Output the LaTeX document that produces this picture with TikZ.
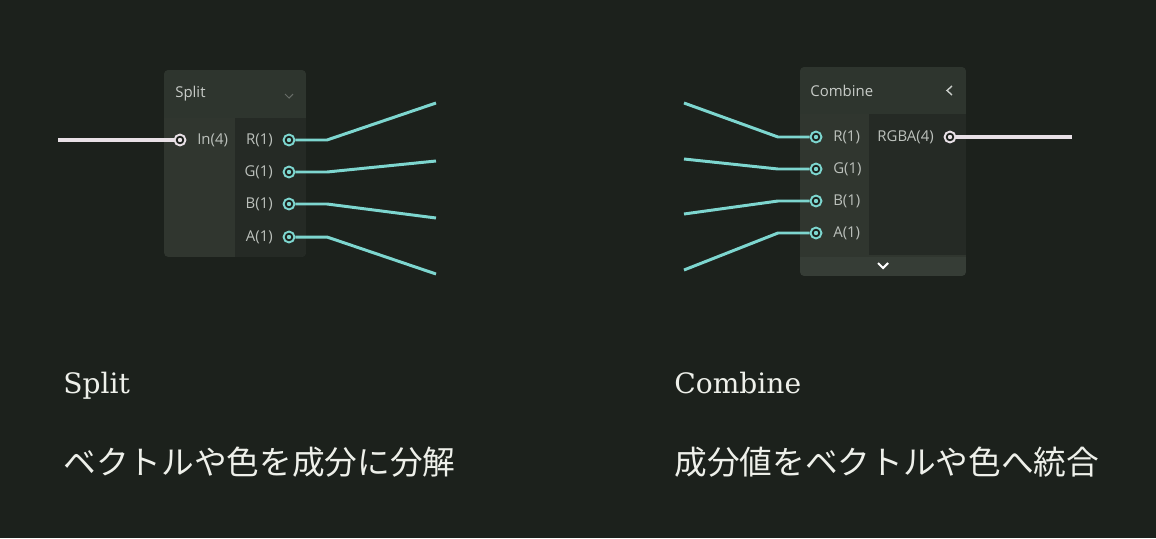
\documentclass[tikz,border=0pt]{standalone}
\usepackage{fontspec}
\setmainfont{DejaVu Serif}
\newfontfamily\uifont{Open Sans}
\newfontfamily\jpfont{Noto Sans CJK JP}
\usetikzlibrary{positioning}

\definecolor{bgcol}{HTML}{1C211C}
\definecolor{headcol}{HTML}{2E352E}
\definecolor{incol}{HTML}{30362F}
\definecolor{outcol}{HTML}{252A25}
\definecolor{footcol}{HTML}{363D36}
\definecolor{wireteal}{HTML}{7DD6CF}
\definecolor{wirewhite}{HTML}{E8E0E6}
\definecolor{labelgrey}{HTML}{BCC1BC}
\definecolor{headgrey}{HTML}{C8CCC8}
\definecolor{textwhite}{HTML}{EEF0EA}

\tikzset{
  port/.style={circle, draw=#1, line width=1.1pt, fill=bgcol, inner sep=0pt,
    minimum size=6.2pt,
    path picture={\fill[#1] (path picture bounding box.center) circle (1.25pt);}},
  portlabel/.style={font=\uifont\fontsize{8.5}{10}\selectfont, text=labelgrey, inner sep=0pt},
  headtext/.style={font=\uifont\fontsize{8.5}{10}\selectfont, text=headgrey, inner sep=0pt},
  wire/.style={draw=#1, line width=1.7pt},
  heading/.style={font=\fontsize{16}{19}\selectfont, text=textwhite, inner sep=0pt},
  jptext/.style={font=\jpfont\fontsize{18.6}{22}\selectfont, text=textwhite, inner sep=0pt},
}

\begin{document}
\begin{tikzpicture}[x=0.02cm, y=-0.02cm]
  \fill[bgcol] (0,0) rectangle (1156,538);

  % Split node
  \begin{scope}
    \clip[rounded corners=2.5pt] (164,70) rectangle (306,257);
    \fill[incol] (164,70) rectangle (306,257);
    \fill[headcol] (164,70) rectangle (306,118);
    \fill[outcol] (235,118) rectangle (306,257);
  \end{scope}
  \node[headtext, anchor=west] (splitTitle) at (175,94) {Split};
  \draw[draw=headcol!60!labelgrey, line width=0.6pt] (285,94) -- (289,98) -- (293,94);

  \node[port=wirewhite] (sIn) at (180,140) {};
  \node[portlabel, right=6pt of sIn] (sInLabel) {In(4)};
  \coordinate (sInEnd) at (58,140);
  \draw[wire=wirewhite, line width=2pt] (sInEnd) -- (sIn);

  \foreach \c/\y/\ey in {R/140/103, G/172/161, B/204/218, A/237/274}
    {
      \node[port=wireteal] (s\c) at (289,\y) {};
      \node[portlabel, left=5.4pt of s\c] (s\c Label) {\c(1)};
      \coordinate (sk\c) at (327,\y);
      \coordinate (se\c) at (436,\ey);
      \draw[wire=wireteal] (s\c) -- (sk\c) -- (se\c);
    }

  % Combine node
  \begin{scope}
    \clip[rounded corners=2.5pt] (800,67) rectangle (966,276);
    \fill[incol] (800,67) rectangle (966,276);
    \fill[headcol] (800,67) rectangle (966,114);
    \fill[outcol] (869,114) rectangle (966,255);
    \fill[footcol] (800,257) rectangle (966,276);
  \end{scope}
  \node[headtext, anchor=west] (combineTitle) at (810,91) {Combine};
  \draw[draw=headgrey, line width=0.8pt] (952,86) -- (947,90.5) -- (952,95);
  \draw[draw=white, line width=1.2pt] (878,263) -- (883,268) -- (888,263);

  \foreach \c/\y/\sy in {R/137/103, G/169/159, B/201/214, A/233/270}
    {
      \node[port=wireteal] (c\c) at (816,\y) {};
      \node[portlabel, right=6pt of c\c] (c\c Label) {\c(1)};
      \coordinate (ck\c) at (778,\y);
      \coordinate (cs\c) at (684,\sy);
      \draw[wire=wireteal] (cs\c) -- (ck\c) -- (c\c);
    }

  \node[port=wirewhite] (cOut) at (950,137) {};
  \node[portlabel, left=5.4pt of cOut] (cOutLabel) {RGBA(4)};
  \coordinate (cOutEnd) at (1072,137);
  \draw[wire=wirewhite, line width=2pt] (cOut) -- (cOutEnd);

  % captions
  \node[heading, anchor=base west] (splitHead) at (63,393) {Split};
  \node[jptext, anchor=west] (splitDesc) at (63,462) {ベクトルや色を成分に分解};
  \node[heading, anchor=base west] (combineHead) at (674,393) {Combine};
  \node[jptext, anchor=west] (combineDesc) at (674,462) {成分値をベクトルや色へ統合};
\end{tikzpicture}
\end{document}
